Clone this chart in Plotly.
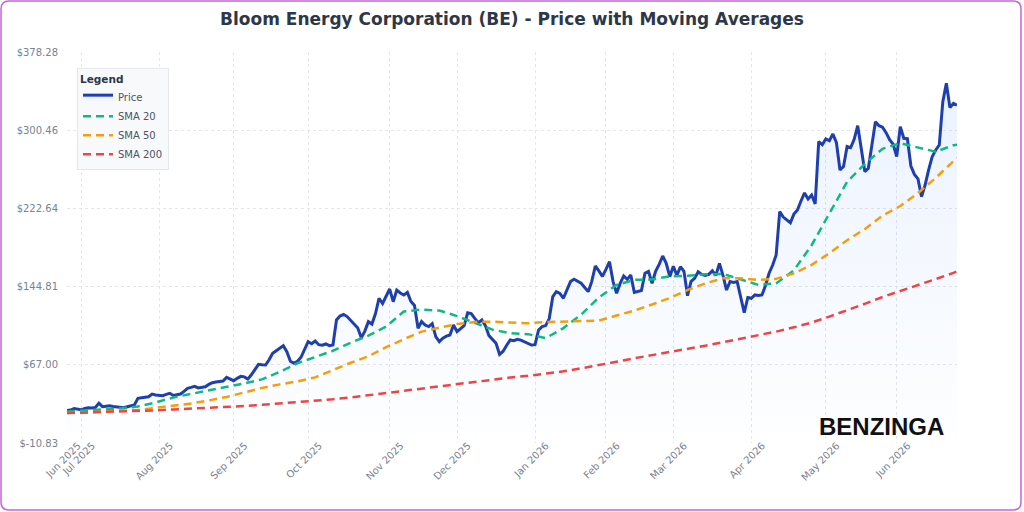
import pandas as pd
import plotly.graph_objects as go

TITLE = "Bloom Energy Corporation (BE) - Price with Moving Averages"
START_DATE = "2025-06-25"
HOLIDAYS = ["2025-07-04", "2025-09-01", "2025-11-27", "2025-12-25", "2026-01-01",
            "2026-01-19", "2026-02-16", "2026-04-03", "2026-05-25", "2026-06-19"]

# Daily closing price (one value per trading day)
price = [
    21.5, 22.0, 23.5, 22.5, 22.2, 23.5, 24.3, 24.0, 24.6, 28.7,
    25.3, 25.8, 26.2, 25.5, 25.0, 24.6, 24.3, 25.2, 26.0, 27.0,
    33.6, 34.5, 34.8, 35.2, 37.9, 37.0, 36.5, 36.2, 37.5, 38.6,
    36.5, 37.0, 37.9, 40.5, 43.6, 44.5, 45.5, 44.0, 44.5, 45.2,
    47.5, 49.2, 49.8, 50.5, 50.9, 54.5, 52.5, 51.2, 53.5, 55.5,
    55.0, 52.9, 57.0, 61.8, 67.5, 67.0, 66.8, 72.0, 78.4, 81.0,
    83.5, 86.0, 80.0, 70.5, 68.5, 70.5, 74.5, 82.0, 90.0, 88.0,
    90.7, 87.0, 86.5, 87.7, 86.0, 86.7, 111.6, 115.5, 117.2, 115.0,
    111.5, 108.0, 103.6, 93.9, 100.5, 109.9, 107.5, 118.0, 133.2, 128.0,
    136.0, 142.4, 129.8, 141.4, 138.5, 136.5, 139.1, 130.0, 126.0, 103.3,
    110.0, 106.5, 105.0, 108.0, 95.0, 90.0, 93.5, 95.5, 96.6, 106.6,
    99.9, 103.0, 106.0, 118.8, 118.0, 113.2, 109.0, 111.6, 106.0, 96.0,
    92.0, 88.5, 77.4, 80.5, 86.5, 91.7, 91.0, 92.4, 91.5, 90.0,
    88.5, 86.7, 87.0, 101.6, 105.0, 106.0, 113.0, 134.8, 139.8, 138.0,
    133.2, 142.0, 149.8, 152.1, 150.5, 148.1, 144.0, 139.8, 150.0, 165.3,
    160.5, 155.0, 162.0, 169.6, 149.8, 138.1, 148.0, 155.4, 152.0, 156.4,
    139.1, 140.0, 141.0, 158.1, 160.0, 148.1, 160.0, 167.0, 175.3, 168.0,
    154.7, 165.0, 156.0, 164.6, 160.0, 135.8, 150.0, 153.0, 159.6, 157.0,
    156.0, 157.0, 160.6, 156.0, 168.0, 156.0, 141.4, 149.8, 149.0, 149.8,
    135.0, 118.8, 134.0, 133.2, 136.5, 136.0, 136.5, 146.0, 158.1, 166.0,
    176.3, 219.4, 214.0, 211.0, 208.4, 217.0, 221.1, 230.0, 238.0, 232.0,
    236.0, 227.0, 289.0, 286.0, 291.7, 290.0, 296.7, 288.0, 260.9, 264.3,
    284.2, 283.0, 291.4, 304.9, 284.2, 259.3, 262.6, 285.0, 308.9, 305.0,
    303.5, 298.0, 291.0, 286.5, 274.1, 303.9, 292.4, 292.0, 264.8, 256.5,
    252.0, 234.3, 245.9, 260.9, 274.1, 280.8, 285.7, 328.8, 347.1, 322.9,
    327.2, 325.5,
]

# Moving averages sampled every 5 trading days (index into the price series)
sma_idx = list(range(0, 251, 5)) + [251]
sma20 = [
    20.5, 21.5, 22.5, 23.5, 25.5, 29.5, 34.5, 38.0, 41.0, 44.3,
    48.5, 52.5, 60.0, 68.5, 75.0, 81.0, 89.0, 96.0, 105.0, 120.0,
    122.0, 121.0, 115.5, 109.0, 102.0, 98.5, 97.5, 93.5, 103.5, 117.0,
    134.0, 146.5, 151.5, 152.0, 155.0, 155.5, 157.0, 157.5, 152.0, 146.5,
    148.0, 161.0, 186.0, 218.0, 249.0, 267.0, 282.0, 287.5, 283.5, 279.0,
    285.5, 286.0,
]
sma50 = [
    19.0, 19.5, 20.5, 21.2, 22.0, 24.0, 26.3, 28.5, 31.5, 35.0,
    39.5, 44.0, 47.5, 50.5, 54.5, 61.8, 69.0, 75.5, 84.5, 92.5,
    100.0, 104.0, 107.5, 109.5, 110.0, 109.0, 108.3, 109.5, 110.0, 110.0,
    111.0, 116.0, 121.0, 127.0, 133.5, 141.4, 148.0, 153.0, 153.0, 151.5,
    152.5, 158.0, 166.5, 178.0, 191.0, 202.0, 215.5, 225.0, 238.0, 253.0,
    270.5, 273.0,
]
sma200 = [
    19.0, 19.4, 19.8, 20.4, 21.0, 21.7, 22.5, 23.2, 24.0, 25.0,
    26.0, 27.2, 28.5, 29.7, 31.0, 32.7, 34.5, 36.7, 39.0, 41.2,
    43.5, 45.5, 47.5, 50.0, 52.5, 54.3, 56.0, 58.2, 60.5, 63.5,
    66.5, 70.0, 73.5, 76.5, 79.5, 82.7, 86.0, 89.5, 93.0, 96.5,
    100.0, 104.3, 109.0, 115.0, 121.0, 127.7, 134.5, 140.3, 146.0, 152.3,
    158.5, 160.0,
]

y_ticks = [-10.83, 67.00, 144.81, 222.64, 300.46, 378.28]

# ---- trading-day calendar for x tick labels ----
bday = pd.offsets.CustomBusinessDay(holidays=HOLIDAYS)
dates = pd.date_range(START_DATE, periods=len(price), freq=bday)
x_idx = list(range(len(price)))
tick_vals, tick_text = [0], [dates[0].strftime("%b %Y")]
for i in range(1, len(dates)):
    if dates[i].month != dates[i - 1].month:
        tick_vals.append(i)
        tick_text.append(dates[i].strftime("%b %Y"))

FONT = "DejaVu Sans"
GRID = "#e3e6eb"
TICK_COLOR = "#7a8291"

fig = go.Figure()
fig.add_trace(go.Scatter(
    x=x_idx, y=price, name="Price", mode="lines",
    line=dict(color="#1f3fae", width=3),
    fill="tozeroy",
    fillgradient=dict(type="vertical",
                      colorscale=[[0, "rgba(59,130,246,0.01)"], [1, "rgba(59,130,246,0.10)"]]),
))
dash = "8px,5px"
fig.add_trace(go.Scatter(x=sma_idx, y=sma20, name="SMA 20", mode="lines",
                         line=dict(color="#10b981", width=2.5, dash=dash)))
fig.add_trace(go.Scatter(x=sma_idx, y=sma50, name="SMA 50", mode="lines",
                         line=dict(color="#f59e0b", width=2.5, dash=dash)))
fig.add_trace(go.Scatter(x=sma_idx, y=sma200, name="SMA 200", mode="lines",
                         line=dict(color="#ef4444", width=2.5, dash=dash)))

W, H = 1024, 512
ML, MR, MT, MB = 67, 67, 52, 69
pw, ph = W - ML - MR, H - MT - MB


def px_to_paper(px, py):
    return (px - ML) / pw, (H - MB - py) / ph


# rounded page border
x0, y1 = px_to_paper(1, 1)
x1, y0 = px_to_paper(1021, 510)
rx, ry = 8 / pw, 8 / ph
border_path = (
    f"M {x0 + rx},{y1} L {x1 - rx},{y1} Q {x1},{y1} {x1},{y1 - ry} "
    f"L {x1},{y0 + ry} Q {x1},{y0} {x1 - rx},{y0} "
    f"L {x0 + rx},{y0} Q {x0},{y0} {x0},{y0 + ry} "
    f"L {x0},{y1 - ry} Q {x0},{y1} {x0 + rx},{y1} Z"
)

lx, ly = px_to_paper(77, 68)
wx, wy = px_to_paper(881, 426)

fig.update_layout(
    width=W, height=H, autosize=False,
    margin=dict(l=ML, r=MR, t=MT, b=MB),
    paper_bgcolor="white", plot_bgcolor="white",
    font=dict(family=FONT, size=10, color=TICK_COLOR),
    title=dict(text=f"<b>{TITLE}</b>", x=0.5, xanchor="center",
               y=1 - 19 / H, yanchor="middle",
               font=dict(family=FONT, size=17, color="#2d3748")),
    showlegend=True,
    legend=dict(
        x=lx, y=ly, xanchor="left", yanchor="top",
        bgcolor="rgba(248,249,250,0.95)", bordercolor="#e5e7eb", borderwidth=1,
        title=dict(text="<b>Legend</b>", font=dict(size=10.5, color="#2d3748")),
        font=dict(size=10, color="#4a5568"),
        itemwidth=30, entrywidth=110, entrywidthmode="pixels",
    ),
    xaxis=dict(
        range=[0, len(price) - 1],
        tickmode="array", tickvals=tick_vals, ticktext=tick_text,
        tickangle=-45, tickfont=dict(size=10, color=TICK_COLOR),
        showgrid=True, gridcolor=GRID, griddash="dot", gridwidth=1,
        zeroline=False, showline=False,
        ticks="", ticklabelshift=11, ticklabelstandoff=-6,
    ),
    yaxis=dict(
        range=[y_ticks[0], y_ticks[-1]],
        tickmode="array", tickvals=y_ticks,
        ticktext=[f"${v:.2f}" for v in y_ticks],
        tickfont=dict(size=10, color=TICK_COLOR),
        showgrid=True, gridcolor=GRID, griddash="dot", gridwidth=1,
        zeroline=False, showline=False,
        ticks="outside", ticklen=6, tickcolor="rgba(0,0,0,0)",
    ),
    shapes=[dict(type="path", xref="paper", yref="paper", path=border_path,
                 line=dict(color="#c466d6", width=1.5), fillcolor="rgba(0,0,0,0)",
                 layer="above")],
    annotations=[dict(text="<b>BENZINGA</b>", xref="paper", yref="paper",
                      x=wx, y=wy, xanchor="center", yanchor="middle", showarrow=False,
                      font=dict(family="Liberation Sans", size=24, color="#111111"))],
)

fig.write_html("out.html")
